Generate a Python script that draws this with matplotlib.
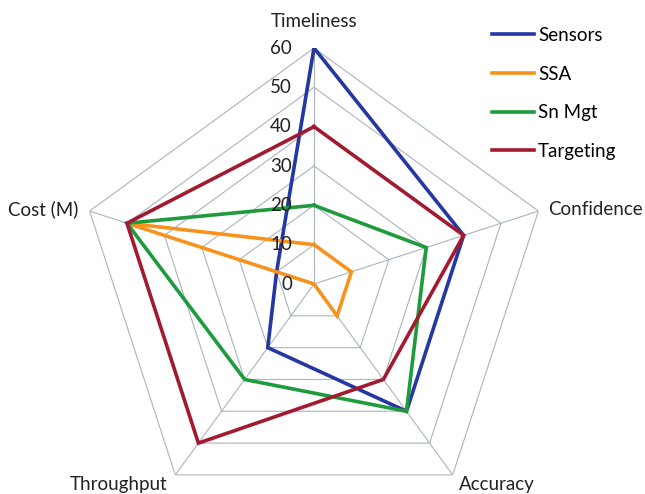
import numpy as np
import matplotlib
matplotlib.use("Agg")
import matplotlib.pyplot as plt
from matplotlib.transforms import offset_copy

plt.rcParams['font.family'] = ['Lato', 'DejaVu Sans']

# Radar data
categories = ["Timeliness", "Confidence", "Accuracy", "Throughput", "Cost (M)"]
series_names = ["Sensors", "SSA", "Sn Mgt", "Targeting"]
sensors = [60, 40, 40, 20, 10]
ssa = [10, 10, 10, 0, 50]
sn_mgt = [20, 30, 40, 30, 50]
targeting = [40, 40, 30, 50, 50]
radial_ticks = [0, 10, 20, 30, 40, 50, 60]

series_values = [sensors, ssa, sn_mgt, targeting]
colors = ["#2437A3", "#F7921E", "#1E9B3C", "#A21A30"]

W, H = 645, 494
FS = 13.5
fig = plt.figure(figsize=(W / 100, H / 100), dpi=100)
cx, cy, R = 314, 284, 236
ax = fig.add_axes([(cx - R) / W, (H - cy - R) / H, 2 * R / W, 2 * R / H],
                  projection="polar")
ax.set_theta_offset(np.pi / 2)
ax.set_theta_direction(-1)
ax.set_ylim(0, radial_ticks[-1])
ax.set_xticks([])
ax.set_yticks([])
ax.grid(False)
ax.spines["polar"].set_visible(False)
ax.patch.set_alpha(0)

n = len(categories)
angles = np.arange(n) * 2 * np.pi / n
closed_angles = np.append(angles, angles[0])

grid_color = "#A9B5BE"
# pentagon gridlines
for t in radial_ticks[1:]:
    ax.plot(closed_angles, [t] * (n + 1), color=grid_color, lw=0.8, zorder=1)
# spokes
for a in angles:
    ax.plot([a, a], [0, radial_ticks[-1]], color=grid_color, lw=0.8, zorder=1)

# series
for i, (name, vals, c) in enumerate(zip(series_names, series_values, colors)):
    v = list(vals) + [vals[0]]
    ax.plot(closed_angles, v, color=c, lw=2.6, label=name, zorder=3 + i,
            solid_joinstyle="miter")

# radial tick labels along the top axis
for t in radial_ticks:
    tr = offset_copy(ax.transData, fig=fig, x=-22, y=0, units="dots")
    ax.text(0, t, str(t), transform=tr, ha="right", va="center",
            fontsize=FS, color="#222222", zorder=10)

# category labels
label_fmt = [
    dict(dx=0, dy=27, ha="center", va="center"),
    dict(dx=10, dy=2, ha="left", va="center"),
    dict(dx=6, dy=-1, ha="left", va="top"),
    dict(dx=-8, dy=-1, ha="right", va="top"),
    dict(dx=-11, dy=2, ha="right", va="center"),
]
for a, name, f in zip(angles, categories, label_fmt):
    tr = offset_copy(ax.transData, fig=fig, x=f["dx"], y=f["dy"], units="dots")
    ax.text(a, radial_ticks[-1], name, transform=tr, ha=f["ha"], va=f["va"],
            fontsize=FS, color="#222222", clip_on=False)

fig.legend(loc="upper left", bbox_to_anchor=(492 / W, 1 - 27 / H),
           frameon=False, fontsize=FS, handlelength=2.25, handletextpad=0.2,
           labelspacing=1.15, borderpad=0, borderaxespad=0)

fig.savefig("out.png", dpi=100)
